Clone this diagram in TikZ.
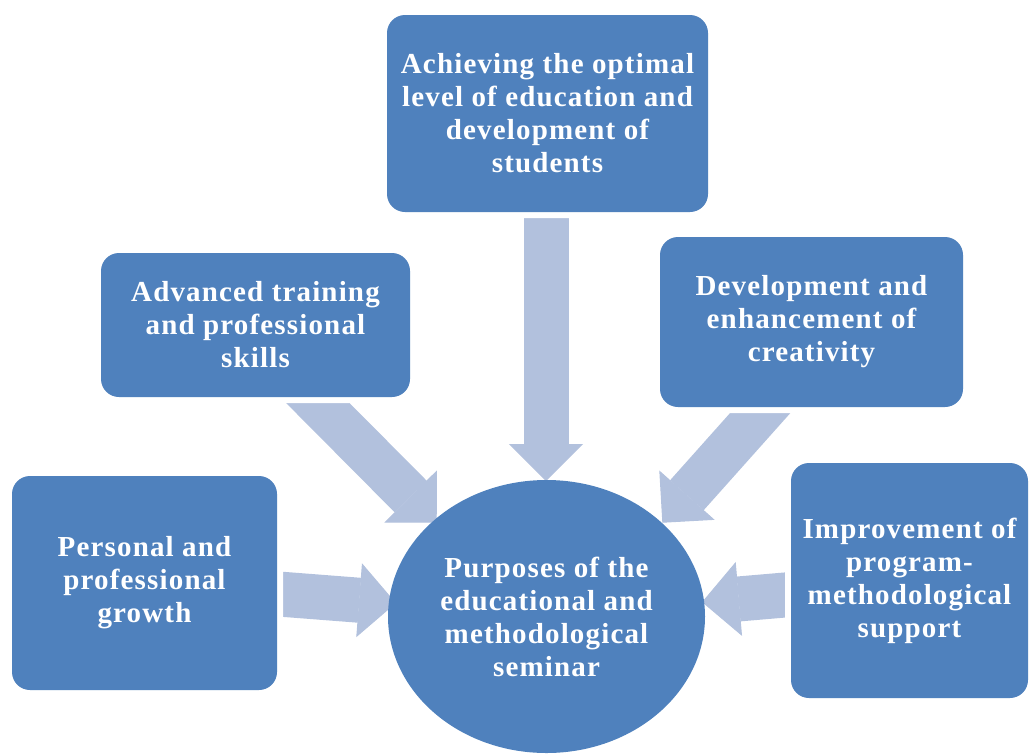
\documentclass[tikz,border=0pt]{standalone}
\usepackage{fontspec}
\setmainfont{Liberation Serif}[LetterSpace=4]
\usetikzlibrary{arrows.meta,shapes.geometric}

\definecolor{boxblue}{RGB}{79,129,189}
\definecolor{arrowblue}{RGB}{178,193,221}

\begin{document}
\begin{tikzpicture}[x=1pt,y=-1pt,
	box/.style={rectangle, rounded corners=18pt, fill=boxblue, text=white, align=center,
		font=\fontsize{29}{33}\selectfont\bfseries, preaction={draw=white, line width=12pt}},
	goal/.style={ellipse, fill=boxblue, text=white, align=center, inner sep=0pt,
		font=\fontsize{29}{33}\selectfont\bfseries},
	pointer/.style={color=arrowblue, line width=45pt,
		-{Triangle[length=37pt, width=74pt, line width=1pt, fill=arrowblue, sep=-1pt]}}]

	\useasboundingbox (0,0) rectangle (1030,753);

	\coordinate (t0) at (546, 190);
	\coordinate (t1) at (546, 480);
	\coordinate (a0) at (287, 372);
	\coordinate (a1) at (436, 522);
	\coordinate (d0) at (787, 383);
	\coordinate (d1) at (663, 522);
	\coordinate (p0) at (253, 592);
	\coordinate (p1) at (395, 603);
	\coordinate (i0) at (820, 592);
	\coordinate (i1) at (703, 602);

	\path[pointer]
	(t0) edge (t1)
	(a0) edge (a1)
	(d0) edge (d1)
	(p0) edge (p1)
	(i0) edge (i1);

	\node (achieve) [box, minimum width=321, minimum height=197] at (547.5, 113.5)
		{Achieving the optimal\\level of education and\\development of\\students};
	\node (advanced) [box, minimum width=309, minimum height=144] at (255.5, 325)
		{Advanced training\\and professional\\skills};
	\node (creative) [box, minimum width=303, minimum height=170] at (811.5, 322)
		{Development and\\enhancement of\\creativity};
	\node (personal) [box, minimum width=265, minimum height=214] at (144.5, 583)
		{Personal and\\professional\\growth};
	\node (support) [box, minimum width=237, minimum height=235] at (909.5, 580.5)
		{Improvement of\\program-\\methodological\\support};
	\node (purpose) [goal, minimum width=317, minimum height=273] at (546.5, 616.5)
		{Purposes of the\\educational and\\methodological\\seminar};

\end{tikzpicture}
\end{document}
